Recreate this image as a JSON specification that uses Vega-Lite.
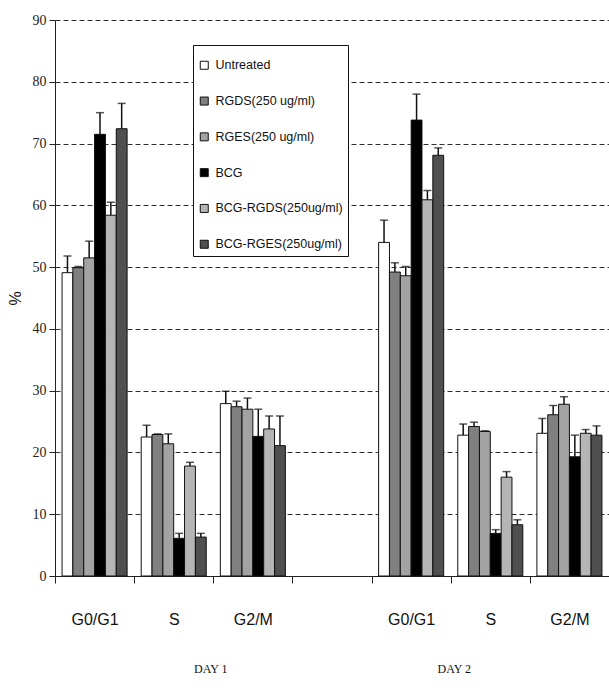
{
  "$schema": "https://vega.github.io/schema/vega-lite/v6.json",
  "width": 554,
  "height": 556,
  "autosize": {"type": "none"},
  "padding": {"left": 55, "top": 20, "right": 0, "bottom": 118},
  "background": "white",
  "config": {"view": {"stroke": null}},
  "data": {
    "values": [
      {"pos": "1|G0/G1", "treatment": "Untreated", "value": 49.1, "upper": 51.8},
      {"pos": "1|G0/G1", "treatment": "RGDS(250 ug/ml)", "value": 49.9, "upper": 50.1},
      {"pos": "1|G0/G1", "treatment": "RGES(250 ug/ml)", "value": 51.5, "upper": 54.2},
      {"pos": "1|G0/G1", "treatment": "BCG", "value": 71.5, "upper": 75.0},
      {"pos": "1|G0/G1", "treatment": "BCG-RGDS(250ug/ml)", "value": 58.4, "upper": 60.5},
      {"pos": "1|G0/G1", "treatment": "BCG-RGES(250ug/ml)", "value": 72.4, "upper": 76.5},
      {"pos": "1|S", "treatment": "Untreated", "value": 22.5, "upper": 24.4},
      {"pos": "1|S", "treatment": "RGDS(250 ug/ml)", "value": 22.9, "upper": 23.0},
      {"pos": "1|S", "treatment": "RGES(250 ug/ml)", "value": 21.4, "upper": 23.0},
      {"pos": "1|S", "treatment": "BCG", "value": 6.1, "upper": 6.9},
      {"pos": "1|S", "treatment": "BCG-RGDS(250ug/ml)", "value": 17.8, "upper": 18.4},
      {"pos": "1|S", "treatment": "BCG-RGES(250ug/ml)", "value": 6.3, "upper": 6.9},
      {"pos": "1|G2/M", "treatment": "Untreated", "value": 27.9, "upper": 29.9},
      {"pos": "1|G2/M", "treatment": "RGDS(250 ug/ml)", "value": 27.4, "upper": 28.3},
      {"pos": "1|G2/M", "treatment": "RGES(250 ug/ml)", "value": 27.0, "upper": 28.8},
      {"pos": "1|G2/M", "treatment": "BCG", "value": 22.6, "upper": 27.0},
      {"pos": "1|G2/M", "treatment": "BCG-RGDS(250ug/ml)", "value": 23.8, "upper": 25.9},
      {"pos": "1|G2/M", "treatment": "BCG-RGES(250ug/ml)", "value": 21.1, "upper": 25.9},
      {"pos": "2|G0/G1", "treatment": "Untreated", "value": 54.0, "upper": 57.6},
      {"pos": "2|G0/G1", "treatment": "RGDS(250 ug/ml)", "value": 49.2, "upper": 50.7},
      {"pos": "2|G0/G1", "treatment": "RGES(250 ug/ml)", "value": 48.6, "upper": 50.1},
      {"pos": "2|G0/G1", "treatment": "BCG", "value": 73.8, "upper": 78.0},
      {"pos": "2|G0/G1", "treatment": "BCG-RGDS(250ug/ml)", "value": 60.9, "upper": 62.4},
      {"pos": "2|G0/G1", "treatment": "BCG-RGES(250ug/ml)", "value": 68.1, "upper": 69.3},
      {"pos": "2|S", "treatment": "Untreated", "value": 22.8, "upper": 24.6},
      {"pos": "2|S", "treatment": "RGDS(250 ug/ml)", "value": 24.2, "upper": 24.9},
      {"pos": "2|S", "treatment": "RGES(250 ug/ml)", "value": 23.4, "upper": 23.5},
      {"pos": "2|S", "treatment": "BCG", "value": 6.9, "upper": 7.5},
      {"pos": "2|S", "treatment": "BCG-RGDS(250ug/ml)", "value": 16.0, "upper": 16.9},
      {"pos": "2|S", "treatment": "BCG-RGES(250ug/ml)", "value": 8.3, "upper": 9.1},
      {"pos": "2|G2/M", "treatment": "Untreated", "value": 23.1, "upper": 25.5},
      {"pos": "2|G2/M", "treatment": "RGDS(250 ug/ml)", "value": 26.1, "upper": 27.6},
      {"pos": "2|G2/M", "treatment": "RGES(250 ug/ml)", "value": 27.8, "upper": 29.0},
      {"pos": "2|G2/M", "treatment": "BCG", "value": 19.3, "upper": 22.8},
      {"pos": "2|G2/M", "treatment": "BCG-RGDS(250ug/ml)", "value": 23.1, "upper": 23.7},
      {"pos": "2|G2/M", "treatment": "BCG-RGES(250ug/ml)", "value": 22.8, "upper": 24.3}
    ]
  },
  "encoding": {
    "x": {
      "field": "pos",
      "type": "nominal",
      "scale": {
        "domain": ["1|G0/G1", "1|S", "1|G2/M", "gap", "2|G0/G1", "2|S", "2|G2/M"],
        "paddingInner": 0,
        "paddingOuter": 0
      },
      "axis": {
        "title": "DAY 1\u00a0\u00a0\u00a0\u00a0\u00a0\u00a0\u00a0\u00a0\u00a0\u00a0\u00a0\u00a0\u00a0\u00a0\u00a0\u00a0\u00a0\u00a0\u00a0\u00a0\u00a0\u00a0\u00a0\u00a0\u00a0\u00a0\u00a0\u00a0\u00a0\u00a0\u00a0\u00a0\u00a0\u00a0\u00a0\u00a0\u00a0\u00a0\u00a0\u00a0\u00a0\u00a0\u00a0\u00a0\u00a0\u00a0\u00a0\u00a0\u00a0\u00a0\u00a0\u00a0\u00a0\u00a0\u00a0\u00a0\u00a0\u00a0\u00a0\u00a0\u00a0\u00a0\u00a0\u00a0\u00a0\u00a0\u00a0\u00a0\u00a0\u00a0DAY 2",
        "titleFont": "Liberation Serif",
        "titleFontSize": 12,
        "titleFontWeight": "normal",
        "titleColor": "#111",
        "titlePadding": 36,
        "labelExpr": "datum.value == 'gap' ? '' : split(datum.value, '|')[1]",
        "labelAngle": 0,
        "labelFont": "Liberation Sans",
        "labelFontSize": 16,
        "labelColor": "#111",
        "labelPadding": 28,
        "tickBand": "extent",
        "tickSize": 7,
        "tickColor": "#222",
        "domainColor": "#222",
        "domainWidth": 1,
        "grid": false
      }
    },
    "xOffset": {
      "field": "treatment",
      "type": "nominal",
      "scale": {
        "domain": ["Untreated", "RGDS(250 ug/ml)", "RGES(250 ug/ml)", "BCG", "BCG-RGDS(250ug/ml)", "BCG-RGES(250ug/ml)"],
        "paddingInner": 0,
        "paddingOuter": 0.65
      }
    }
  },
  "layer": [
    {
      "mark": {"type": "bar", "stroke": "#111", "strokeWidth": 1},
      "encoding": {
        "y": {
          "field": "value",
          "type": "quantitative",
          "scale": {"domain": [0, 90], "nice": false},
          "axis": {
            "title": "%",
            "titleFont": "Liberation Sans",
            "titleFontSize": 16,
            "titleFontWeight": "normal",
            "titleColor": "#111",
            "titlePadding": 9,
            "values": [0, 10, 20, 30, 40, 50, 60, 70, 80, 90],
            "grid": true,
            "gridDash": [5, 3],
            "gridColor": "#333",
            "gridWidth": 1,
            "labelFont": "Liberation Serif",
            "labelFontSize": 14,
            "labelColor": "#222",
            "labelPadding": 3,
            "tickSize": 6,
            "tickColor": "#222",
            "domainColor": "#222"
          }
        },
        "color": {
          "field": "treatment",
          "type": "nominal",
          "scale": {
            "domain": ["Untreated", "RGDS(250 ug/ml)", "RGES(250 ug/ml)", "BCG", "BCG-RGDS(250ug/ml)", "BCG-RGES(250ug/ml)"],
            "range": ["#ffffff", "#808080", "#a3a3a3", "#000000", "#b5b5b5", "#4f4f4f"]
          },
          "legend": {
            "title": " ",
            "titleFontSize": 4,
            "titlePadding": 5,
            "orient": "none",
            "legendX": 138,
            "legendY": 25,
            "padding": 5,
            "strokeColor": "#111",
            "fillColor": "white",
            "symbolType": "square",
            "symbolSize": 64,
            "symbolStrokeColor": "#111",
            "symbolStrokeWidth": 1,
            "labelFont": "Liberation Sans",
            "labelFontSize": 12.5,
            "labelColor": "#111",
            "labelOffset": 5,
            "rowPadding": 22.8
          }
        }
      }
    },
    {
      "mark": {"type": "rule", "color": "#111", "strokeWidth": 1.5},
      "encoding": {
        "y": {"field": "value", "type": "quantitative", "title": "%"},
        "y2": {"field": "upper"}
      }
    },
    {
      "mark": {"type": "tick", "color": "#111", "thickness": 1.5, "size": 8},
      "encoding": {
        "y": {"field": "upper", "type": "quantitative", "title": "%"}
      }
    }
  ]
}
